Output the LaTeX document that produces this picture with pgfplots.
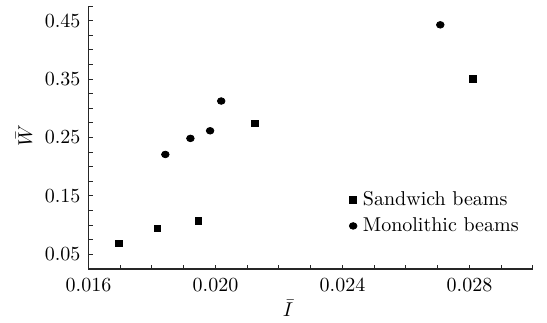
\documentclass[border=0pt]{standalone}
\usepackage{pgfplots}
\pgfplotsset{compat=1.18}
\begin{document}
\begin{tikzpicture}
\begin{axis}[
  name=ax,
  scale only axis,
  width=222.25pt, height=131.5pt,
  xmin=0.016, xmax=0.030,
  ymin=0.025, ymax=0.475,
  axis x line=bottom, axis y line=left,
  axis line style={-, line width=0.6pt, black!85},
  tick style={line width=0.5pt, black!85},
  tick align=inside,
  major tick length=2.2pt, minor tick length=2.2pt,
  scaled ticks=false,
  xtick={0.016,0.020,0.024,0.028},
  xticklabels={0.016,0.020,0.024,0.028},
  minor xtick={0.017,0.018,0.019,0.021,0.022,0.023,0.025,0.026,0.027,0.029,0.030},
  ytick={0.05,0.15,0.25,0.35,0.45},
  yticklabels={0.05,0.15,0.25,0.35,0.45},
  minor ytick={0.025,0.075,0.1,0.125,0.175,0.2,0.225,0.275,0.3,0.325,0.375,0.4,0.425,0.475},
  xticklabel style={yshift=-1pt},
  yticklabel style={xshift=-0.5pt},
  xlabel={$\bar{I}$},
  ylabel={$\bar{W}$},
  xlabel style={at={(axis description cs:0.449,-0.148)}, anchor=center},
  ylabel style={at={(axis description cs:-0.145,0.506)}, anchor=center},
  legend style={at={(axis description cs:0.586,0.308)}, anchor=north west,
    draw=none, fill=none, inner sep=0pt, row sep=1.5pt,
    nodes={inner sep=1.5pt},
    /tikz/every odd column/.append style={column sep=1.5pt}},
  legend cell align=left,
  legend image code/.code={\draw[#1] plot coordinates {(0.08cm,0cm)};},
]
\addplot[only marks, mark=square*, mark size=1.7pt, black] coordinates {
  (0.01696,0.0689) (0.01817,0.0946) (0.01946,0.1071) (0.02125,0.2742) (0.02810,0.3507)
};
\addlegendentry{Sandwich beams}
\addplot[only marks, mark=*, mark size=1.65pt, black, mark options={xscale=1.15}] coordinates {
  (0.01842,0.2210) (0.01921,0.2485) (0.01983,0.2615) (0.02018,0.3124) (0.02708,0.4428)
};
\addlegendentry{Monolithic beams}
\end{axis}
\pgfresetboundingbox
\path[use as bounding box] ([shift={(-44.25pt,-26.5pt)}]ax.south west) rectangle ([shift={(7pt,3pt)}]ax.north east);
\end{tikzpicture}
\end{document}
